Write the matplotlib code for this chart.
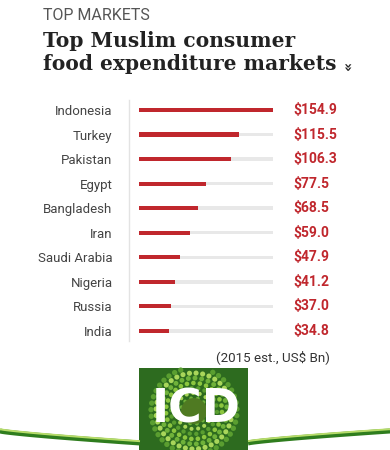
import numpy as np
import matplotlib
matplotlib.use("Agg")
import matplotlib.pyplot as plt
from matplotlib.patches import Rectangle

# data
countries = ["Indonesia", "Turkey", "Pakistan", "Egypt", "Bangladesh",
             "Iran", "Saudi Arabia", "Nigeria", "Russia", "India"]
spend = [154.9, 115.5, 106.3, 77.5, 68.5, 59.0, 47.9, 41.2, 37.0, 34.8]
value_labels = ["$154.9", "$115.5", "$106.3", "$77.5", "$68.5",
                "$59.0", "$47.9", "$41.2", "$37.0", "$34.8"]

RED = "#c0272d"
TRACK = "#e8e8e8"
W, H = 390, 450

fig = plt.figure(figsize=(3.9, 4.5), dpi=100)
fig.patch.set_facecolor("white")

# full-figure pixel axes for decorations
bg = fig.add_axes([0, 0, 1, 1])
bg.set_xlim(0, W)
bg.set_ylim(H, 0)
bg.axis("off")

bg.text(43, 16, "TOP MARKETS", fontsize=11.5, family="Roboto",
        color="#555555", va="center", ha="left")
bg.text(43, 41, "Top Muslim consumer", fontsize=14.6, family="DejaVu Serif",
        weight="bold", color="#222222", va="center", ha="left")
bg.text(43, 64, "food expenditure markets", fontsize=14.6, family="DejaVu Serif",
        weight="bold", color="#222222", va="center", ha="left")
bg.text(346, 67, "»", fontsize=10, color="#222222", rotation=270,
        va="center", ha="center", weight="bold")

# thin divider next to the labels
bg.plot([129, 129], [100, 341], color="#e3e3e3", lw=1)

bg.text(330, 357, "(2015 est., US$ Bn)", fontsize=9.6, family="Roboto",
        color="#333333", ha="right", va="center")

# green swoosh
xl = np.linspace(0, 140, 60)
yl = 430 + 12 * (xl / 140) ** 0.8
xr = np.linspace(248, 390, 60)
yr = 442 - 12 * ((xr - 248) / 142) ** 0.8
for xs, ys in [(xl, yl), (xr, yr)]:
    bg.plot(xs, ys + 1, color="#2f7d1e", lw=3.6, solid_capstyle="butt")
    bg.plot(xs, ys - 0.8, color="#b7dc6a", lw=1.4, solid_capstyle="butt")

# logo
bg.add_patch(Rectangle((139, 368), 109, 82, facecolor="#2d6b1f", edgecolor="none"))
cx, cy = 194, 411
greens = ["#8cc63f", "#6fb23a", "#a9d65a", "#5a9e30"]
for k, r in enumerate(np.arange(8, 48, 5)):
    n = int(2 * np.pi * r / 6.5)
    ang = np.linspace(0, 2 * np.pi, n, endpoint=False) + k * 0.3
    px = cx + r * np.cos(ang)
    py = cy + r * np.sin(ang)
    keep = (px > 141) & (px < 246) & (py > 370)
    bg.scatter(px[keep], py[keep], s=4 + r * 0.25, color=greens[k % 4],
               edgecolors="none", zorder=3)
bg.scatter([cx], [cy], s=350, color="#4f7a22", edgecolors="none", zorder=3)
bg.text(cx + 2, 410, "ICD", fontsize=33, weight="bold", color="white",
        family="DejaVu Sans", ha="center", va="center", zorder=4)

# bar axes
top_px, step = 110, 24.55
y0 = top_px - step / 2
y1 = top_px + step * 9.5
ax = fig.add_axes([139 / W, 1 - y1 / H, 134 / W, (y1 - y0) / H])
ax.set_xlim(0, max(spend))
ax.set_ylim(len(countries) - 0.5, -0.5)
ypos = np.arange(len(countries))
ax.barh(ypos, [max(spend)] * len(spend), height=0.14, color=TRACK, zorder=1)
ax.barh(ypos, spend, height=0.17, color=RED, zorder=2)
for s in ax.spines.values():
    s.set_visible(False)
ax.set_xticks([])
ax.set_yticks(ypos)
ax.set_yticklabels(countries, fontsize=9.5, family="Roboto", color="#444444")
ax.tick_params(axis="y", length=0, pad=19)
ax.patch.set_alpha(0)
for i, lab in enumerate(value_labels):
    ax.text(max(spend) * 1.15, i, lab, fontsize=10, weight="bold",
            family="Roboto", color=RED, va="center", ha="left")

fig.savefig("out.png", dpi=100)
